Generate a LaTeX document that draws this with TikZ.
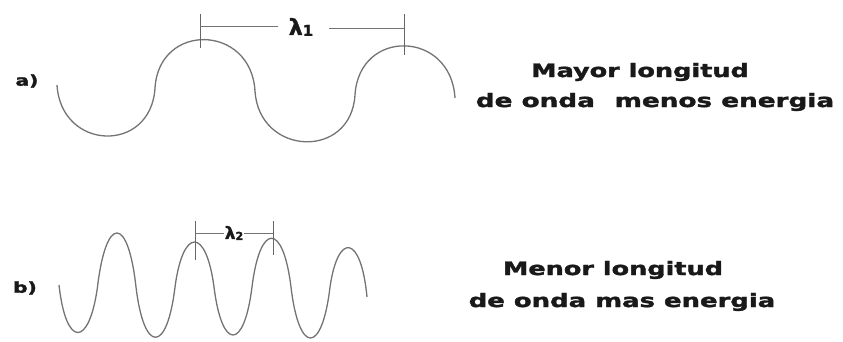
\documentclass[tikz,border=0pt]{standalone}
\usepackage{fontspec}
\newfontfamily\dvb{DejaVu Sans}[BoldFont={DejaVu Sans Bold},BoldFeatures={FakeBold=1.6}]
\begin{document}
\begin{tikzpicture}[x=1pt,y=-1pt,
  wave/.style={draw=black!55,line width=1.3pt,line join=round},
  tick/.style={draw=black!60,line width=0.9pt},
  dim/.style={draw=black!55,line width=0.9pt},
  lab/.style={font=\dvb\bfseries\fontsize{18.5}{20}\selectfont,inner sep=0pt,text=black!90},
  tag/.style={font=\dvb\bfseries\fontsize{15}{16}\selectfont,inner sep=0pt,text=black!90}]
\useasboundingbox (0,0) rectangle (843,341);
% wave a
\draw[wave] (57,85) .. controls (61,151) and (151,154) .. (155,88)
  .. controls (159,22) and (251,24) .. (255,91)
  .. controls (259,156) and (351,160) .. (355,95)
  .. controls (359,28) and (451,30) .. (455,98);
% wave b
\draw[wave] (59,285) .. controls (66,348) and (89,348) .. (97.5,287)
  .. controls (106,215) and (128,215) .. (136,287)
  .. controls (144,354) and (167,354) .. (175,287)
  .. controls (183,227) and (206,227) .. (214,287)
  .. controls (222,351) and (244,351) .. (252,287)
  .. controls (260,222) and (283,222) .. (291,287)
  .. controls (299,355) and (322,355) .. (330,287)
  .. controls (338,232) and (361,234) .. (367,297);
% lambda 1
\coordinate (a1t) at (200,14); \coordinate (a1b) at (200,48);
\coordinate (a2t) at (404,14); \coordinate (a2b) at (404,55);
\draw[tick] (a1t) -- (a1b);
\draw[tick] (a2t) -- (a2b);
\node[font=\dvb\bfseries\fontsize{22}{24}\selectfont,inner sep=1pt,text=black!90] (l1) at (301,27) {λ\raisebox{-1pt}{\fontsize{15}{16}\selectfont 1}};
\coordinate (l1a) at (200,26); \coordinate (l1b) at (404,28);
\draw[dim] (l1a) -- (278,26);
\draw[dim] (329,28) -- (l1b);
% lambda 2
\coordinate (b1t) at (195,221); \coordinate (b1b) at (195,260);
\coordinate (b2t) at (273,221); \coordinate (b2b) at (273,255);
\draw[tick] (b1t) -- (b1b);
\draw[tick] (b2t) -- (b2b);
\node[font=\dvb\bfseries\fontsize{17}{18}\selectfont,inner sep=1pt,text=black!90] (l2) at (234,233) {λ\raisebox{-1pt}{\fontsize{11}{12}\selectfont 2}};
\coordinate (l2a) at (195,233); \coordinate (l2b) at (273,233);
\draw[dim] (l2a) -- (l2.west);
\draw[dim] (l2.east) -- (l2b);
% tags
\node[tag] (ta) at (27,81) {\scalebox{1.35}[1]{a)}};
\node[tag] (tb) at (25,288) {\scalebox{1.35}[1]{b)}};
% texts
\node[lab] (t1) at (640,72) {\scalebox{1.38}[1]{Mayor longitud}};
\node[lab] (t2) at (655,102) {\scalebox{1.42}[1]{de onda\hspace{0.4em} menos energia}};
\node[lab] (t3) at (613,270) {\scalebox{1.38}[1]{Menor longitud}};
\node[lab] (t4) at (622,302) {\scalebox{1.4}[1]{de onda mas energia}};
\end{tikzpicture}
\end{document}
